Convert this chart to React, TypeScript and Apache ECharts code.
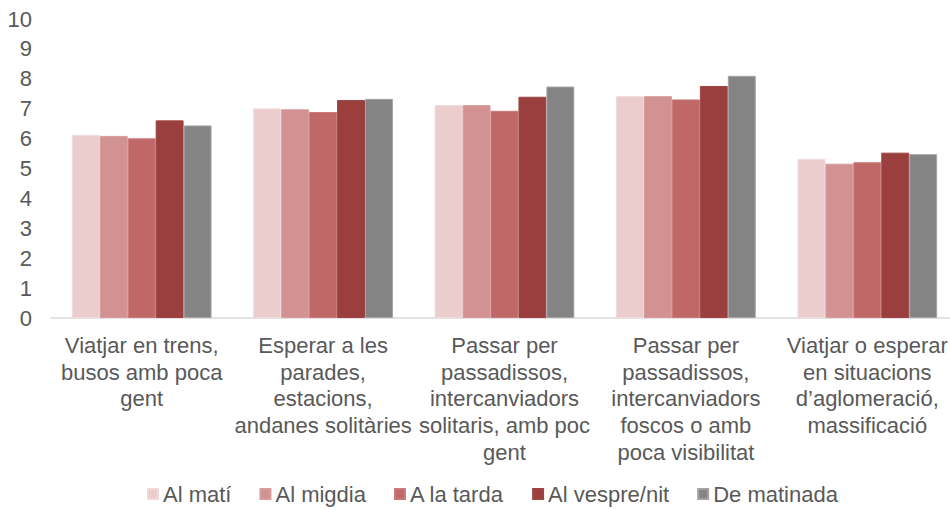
import React, { useEffect, useRef } from "react";
import * as echarts from "echarts";

const categories = [
  "Viatjar en trens,\nbusos amb poca\ngent",
  "Esperar a les\nparades,\nestacions,\nandanes solitàries",
  "Passar per\npassadissos,\nintercanviadors\nsolitaris, amb poc\ngent",
  "Passar per\npassadissos,\nintercanviadors\nfoscos o amb\npoca visibilitat",
  "Viatjar o esperar\nen situacions\nd’aglomeració,\nmassificació",
];

const seriesNames = ["Al matí", "Al migdia", "A la tarda", "Al vespre/nit", "De matinada"];

const alMati = [6.12, 7.01, 7.12, 7.42, 5.32];
const alMigdia = [6.09, 6.98, 7.12, 7.42, 5.16];
const aLaTarda = [6.01, 6.89, 6.93, 7.31, 5.21];
const alVespre = [6.61, 7.29, 7.40, 7.76, 5.53];
const deMatinada = [6.44, 7.33, 7.74, 8.10, 5.48];

const yTicks = { min: 0, max: 10, interval: 1 };

const colors = ["#EBCDCE", "#D39292", "#C06867", "#9B3F3E", "#848484"];
const borderColors = ["#EFD9DA", "#D79C9C", "#C97A79", "#9E4544", "#A3A3A3"];

const FONT = "'Liberation Sans', Arial, sans-serif";

export default function App() {
  const ref = useRef<HTMLDivElement>(null);

  useEffect(() => {
    if (!ref.current) return;
    const chart = echarts.init(ref.current, undefined, { renderer: "svg" });
    const values = [alMati, alMigdia, aLaTarda, alVespre, deMatinada];
    chart.setOption({
      animation: false,
      backgroundColor: "#ffffff",
      textStyle: { fontFamily: FONT },
      grid: {
        left: 51,
        right: -8,
        top: 19,
        bottom: 192,
        containLabel: false,
        outerBoundsMode: "none",
      },
      legend: {
        left: 142,
        top: 476,
        itemWidth: 10,
        itemHeight: 10,
        itemGap: 28,
        icon: "rect",
        textStyle: {
          fontFamily: FONT,
          fontSize: 22,
          color: "#595959",
          lineHeight: 26,
        },
        data: seriesNames,
      },
      xAxis: {
        type: "category",
        data: categories,
        axisLine: { show: true, lineStyle: { color: "#D9D9D9", width: 1.5 } },
        axisTick: { show: false },
        axisLabel: {
          interval: 0,
          fontFamily: FONT,
          fontSize: 22,
          lineHeight: 26.7,
          color: "#595959",
          margin: 14,
          align: "center",
        },
      },
      yAxis: {
        type: "value",
        min: yTicks.min,
        max: yTicks.max,
        interval: yTicks.interval,
        axisLine: { show: false },
        axisTick: { show: false },
        splitLine: { show: false },
        axisLabel: {
          fontFamily: FONT,
          fontSize: 22,
          color: "#595959",
          margin: 19,
        },
      },
      series: seriesNames.map((name, i) => ({
        name,
        type: "bar",
        data: values[i],
        barGap: "0%",
        barCategoryGap: "23%",
        itemStyle: {
          color: colors[i],
          borderColor: borderColors[i],
          borderWidth: 1,
        },
      })),
    });
    return () => chart.dispose();
  }, []);

  return (
    <div
      ref={ref}
      style={{ position: "fixed", left: 0, top: 0, width: 950, height: 510, background: "#fff" }}
    />
  );
}
